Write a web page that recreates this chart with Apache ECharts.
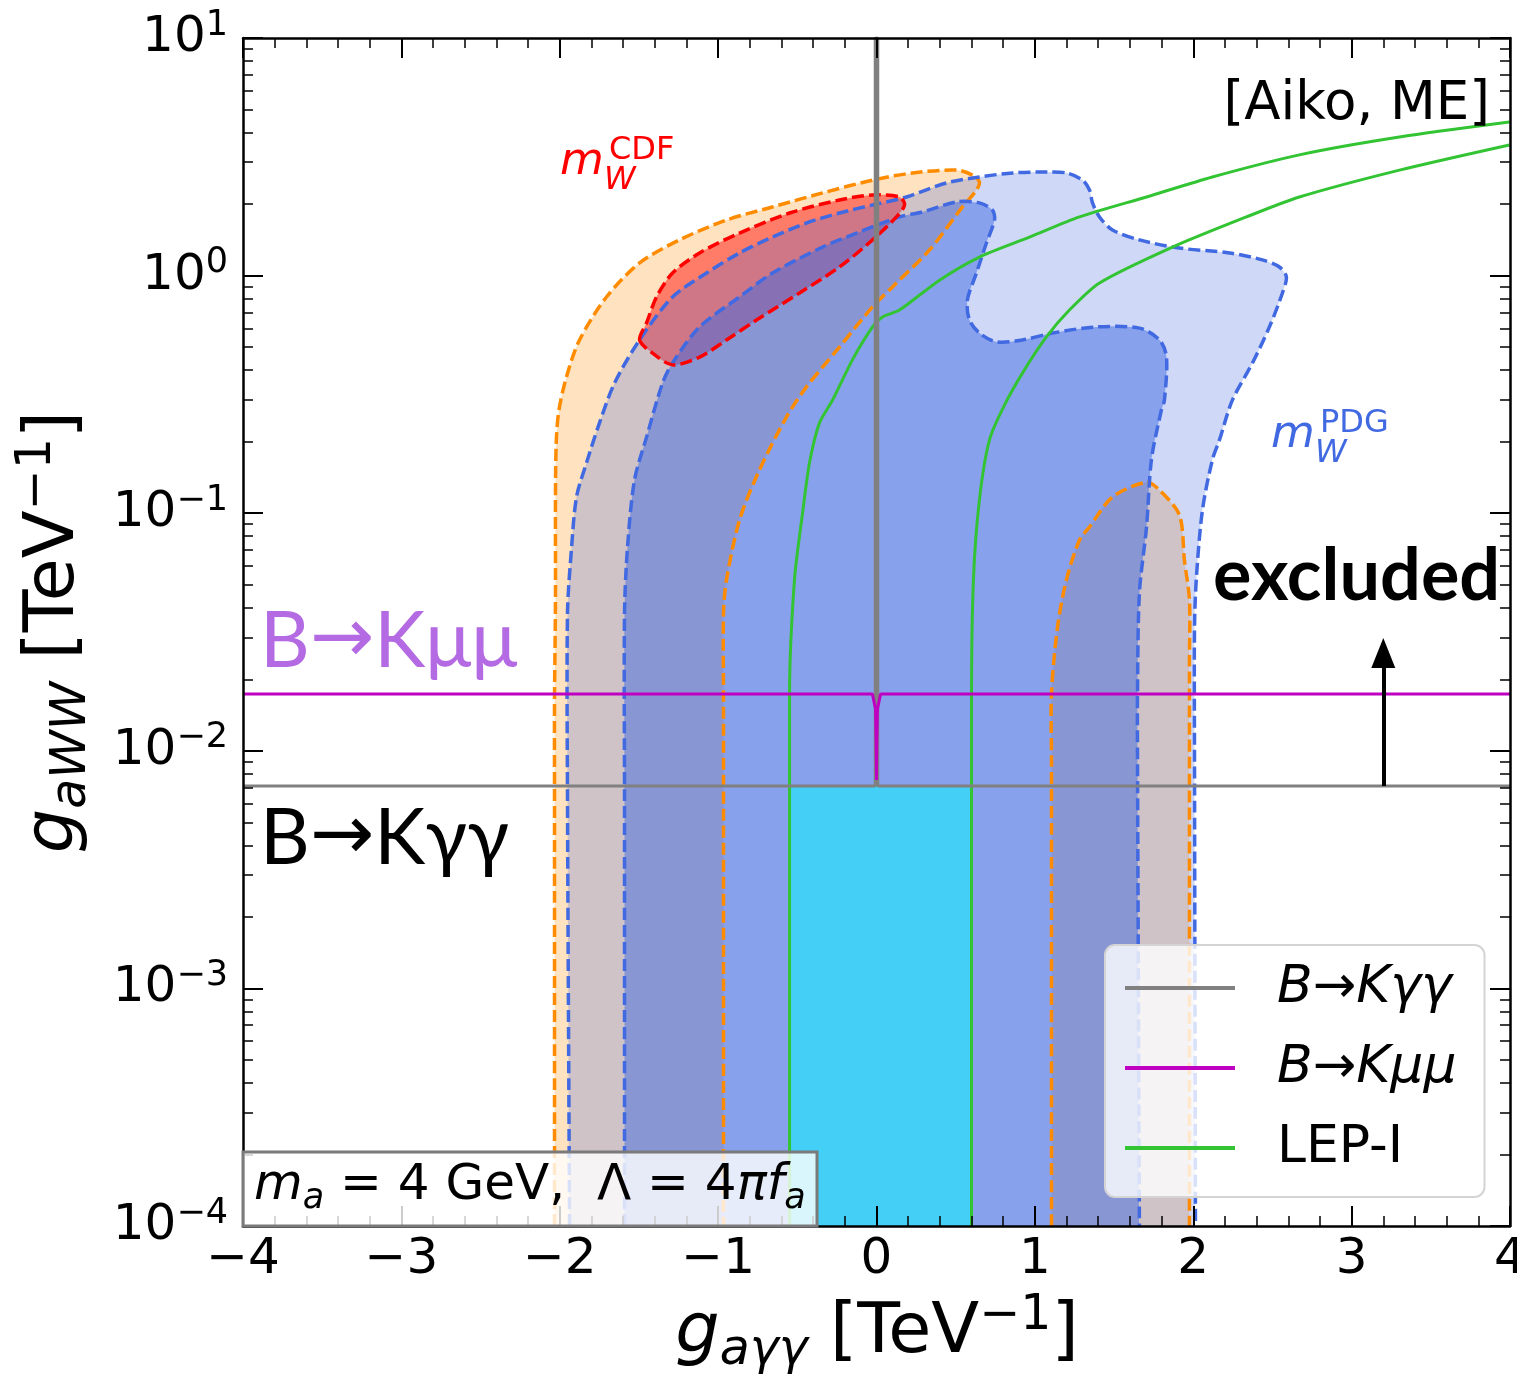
<!DOCTYPE html>
<html><head><meta charset="utf-8">
<script src="https://cdn.jsdelivr.net/npm/echarts@6/dist/echarts.min.js"></script>
<style>html,body{margin:0;padding:0;background:#fff}#c{width:1517px;height:1378px}</style>
</head><body><div id="c"></div>
<script>
// ---------- axes ----------
const xTickValues = [-4, -3, -2, -1, 0, 1, 2, 3, 4];
const xTickLabels = ['\u22124', '\u22123', '\u22122', '\u22121', '0', '1', '2', '3', '4'];
const yTickValues = [1e-4, 1e-3, 1e-2, 1e-1, 1, 10];
const yTickExponents = ['\u22124', '\u22123', '\u22122', '\u22121', '0', '1'];
const yMinorTickValues = [
  2e-4, 3e-4, 4e-4, 5e-4, 6e-4, 7e-4, 8e-4, 9e-4,
  2e-3, 3e-3, 4e-3, 5e-3, 6e-3, 7e-3, 8e-3, 9e-3,
  0.02, 0.03, 0.04, 0.05, 0.06, 0.07, 0.08, 0.09,
  0.2, 0.3, 0.4, 0.5, 0.6, 0.7, 0.8, 0.9,
  2, 3, 4, 5, 6, 7, 8, 9
];

// ---------- regions [g_aγγ, g_aWW] ----------
const cdfOuterBand = [
  [-2.033, 1e-4], [-2.033, 0.00621], [-2.033, 0.0164], [-2.027, 0.0432], [-2.027, 0.114], [-2.022, 0.200],
  [-2.005, 0.272], [-1.955, 0.380], [-1.875, 0.536], [-1.705, 0.813], [-1.496, 1.13], [-1.244, 1.413], [-0.947, 1.714],
  [-0.657, 1.945], [-0.341, 2.228], [-0.025, 2.523], [0.227, 2.704], [0.505, 2.780], [0.606, 2.649], [0.650, 2.477],
  [0.631, 2.291], [0.543, 1.945], [0.335, 1.282], [0.126, 0.931], [-0.025, 0.738], [-0.234, 0.500],
  [-0.442, 0.340], [-0.568, 0.254], [-0.739, 0.152], [-0.865, 0.0935], [-0.947, 0.0524], [-0.966, 0.0380],
  [-0.966, 0.0164], [-0.966, 1e-4]
];
const cdfRightLobe = [
  [1.105, 1e-4], [1.105, 0.00914], [1.105, 0.0175], [1.143, 0.0332], [1.199, 0.0524], [1.282, 0.0771],
  [1.345, 0.0875], [1.490, 0.117], [1.705, 0.135], [1.787, 0.125], [1.913, 0.0981], [1.944, 0.0635],
  [1.976, 0.0432], [1.976, 0.0241], [1.976, 1e-4]
];
const cdfCore = [
  [-1.496, 0.536], [-1.452, 0.632], [-1.389, 0.813], [-1.288, 1.025], [-1.117, 1.245], [-0.865, 1.510],
  [-0.549, 1.834], [-0.234, 2.080], [-0.025, 2.183], [0.145, 2.142], [0.177, 1.982], [0.126, 1.766],
  [-0.025, 1.413], [-0.234, 1.087], [-0.486, 0.845], [-0.758, 0.650], [-0.947, 0.536], [-1.117, 0.454],
  [-1.288, 0.421], [-1.414, 0.472]
];
const pdgOuter = [
  [-1.938, 1e-4], [-1.951, 0.00621], [-1.951, 0.0380], [-1.925, 0.0721], [-1.894, 0.117], [-1.831, 0.163],
  [-1.749, 0.240], [-1.654, 0.353], [-1.496, 0.536], [-1.288, 0.813], [-1.073, 1.025], [-0.865, 1.245],
  [-0.657, 1.452], [-0.442, 1.665], [-0.234, 1.834], [-0.025, 1.982], [0.189, 2.142], [0.442, 2.455],
  [0.650, 2.600], [0.859, 2.704], [1.073, 2.729], [1.199, 2.704], [1.301, 2.523], [1.345, 2.291],
  [1.364, 2.023], [1.408, 1.766], [1.490, 1.556], [1.660, 1.413], [1.913, 1.306], [2.229, 1.245],
  [2.437, 1.164], [2.544, 1.087], [2.588, 0.986], [2.563, 0.845], [2.481, 0.608], [2.374, 0.429],
  [2.247, 0.299], [2.165, 0.203], [2.121, 0.168], [2.058, 0.103], [2.020, 0.0538], [2.008, 0.0332],
  [2.008, 0.00914], [2.014, 1e-4]
];
const pdgCore = [
  [-1.591, 1e-4], [-1.591, 0.00621], [-1.591, 0.0380], [-1.572, 0.0721], [-1.528, 0.138], [-1.452, 0.209],
  [-1.351, 0.353], [-1.288, 0.429], [-1.117, 0.608], [-0.865, 0.813], [-0.657, 1.025], [-0.341, 1.318],
  [-0.126, 1.510], [0.145, 1.766], [0.290, 1.853], [0.505, 2.042], [0.650, 2.023], [0.732, 1.888],
  [0.745, 1.714], [0.694, 1.371], [0.631, 1.025], [0.574, 0.789], [0.587, 0.650], [0.650, 0.573],
  [0.758, 0.526], [0.922, 0.536], [1.111, 0.573], [1.389, 0.608], [1.660, 0.601], [1.787, 0.536],
  [1.831, 0.454], [1.818, 0.299], [1.799, 0.272], [1.736, 0.168], [1.705, 0.0875], [1.660, 0.0461],
  [1.648, 0.0175], [1.648, 0.00914], [1.660, 1e-4]
];
const allowedBox = [[-0.549, 1e-4], [-0.549, 0.00711], [0.600, 0.00711], [0.600, 1e-4]];

// ---------- constraint lines ----------
const lepLeft = [
  [-0.549, 1e-4], [-0.549, 0.00235], [-0.549, 0.0173], [-0.518, 0.0524], [-0.467, 0.100], [-0.423, 0.163],
  [-0.360, 0.240], [-0.278, 0.299], [-0.152, 0.442], [-0.025, 0.608], [0.038, 0.670], [0.145, 0.716],
  [0.398, 0.957], [0.650, 1.197], [0.966, 1.452], [1.282, 1.766], [1.705, 2.143], [2.121, 2.600],
  [2.670, 3.221], [3.302, 3.828], [3.996, 4.426]
];
const lepRight = [
  [0.600, 1e-4], [0.600, 0.0164], [0.612, 0.0524], [0.650, 0.114], [0.713, 0.203], [0.808, 0.285],
  [0.934, 0.401], [1.073, 0.552], [1.218, 0.716], [1.408, 0.931], [1.869, 1.318], [2.336, 1.766],
  [2.670, 2.142], [3.302, 2.780], [3.996, 3.548]
];
const bkggLine = [[-4, 0.00711], [-0.008, 0.00711], [-0.008, 10], [0.008, 10], [0.008, 0.00711], [4, 0.00711]];
const bkmmLine = [[-4, 0.01734], [-0.026, 0.01734], [-0.006, 0.0150], [-0.002, 0.0100], [0, 0.00753],
  [0.002, 0.0100], [0.006, 0.0150], [0.026, 0.01734], [4, 0.01734]];
const exclusionArrow = [[3.2, 0.00711], [3.2, 0.0258]];
const legendNames = ['B\u2192K\u03b3\u03b3', 'B\u2192K\u03bc\u03bc', 'LEP-I'];

// ---------- helpers ----------
const FONT = 'DejaVu Sans';
const LABEL_FONT = 'Lato, DejaVu Sans';
const SMOOTH = 0.3;
function fillSeries(pts, color, closed) {
  return {
    type: 'custom', coordinateSystem: 'cartesian2d', xAxisIndex: 0, yAxisIndex: 0,
    z: 1, silent: true, clip: true, data: pts, encode: { x: 0, y: 1 },
    renderItem: function (params, api) {
      if (params.dataIndex !== 0) return null;
      return { type: closed ? 'polygon' : 'polyline',
        shape: { points: pts.map(p => api.coord(p)), smooth: SMOOTH },
        style: { fill: color, stroke: null } };
    }
  };
}
function outlineSeries(pts, color, closed) {
  return {
    type: 'custom', coordinateSystem: 'cartesian2d', xAxisIndex: 0, yAxisIndex: 0,
    z: 2, silent: true, clip: true, data: pts, encode: { x: 0, y: 1 },
    renderItem: function (params, api) {
      if (params.dataIndex !== 0) return null;
      return {
        type: closed ? 'polygon' : 'polyline',
        shape: { points: pts.map(p => api.coord(p)), smooth: SMOOTH },
        style: { fill: closed ? 'none' : null, stroke: color, lineWidth: 3.5, lineDash: [12, 5] }
      };
    }
  };
}
function lineSeries(name, pts, color, z, smooth) {
  return {
    type: 'line', name: name, data: pts, xAxisIndex: 0, yAxisIndex: 0, symbol: 'none', showSymbol: false,
    smooth: smooth || false,
    lineStyle: { color: color, width: 3 }, itemStyle: { color: color }, z: z, silent: true, clip: true
  };
}
const tickLine = { color: '#000', width: 2 };
function xAx(pos, labels) {
  return {
    type: 'value', min: -4, max: 4, interval: 1, position: pos, z: 5,
    axisLine: { show: true, onZero: false, lineStyle: { color: '#000', width: 2.5 } },
    axisTick: { show: true, inside: true, length: 20, lineStyle: tickLine },
    minorTick: { show: true, splitNumber: 5, length: 10, lineStyle: { color: '#000', width: 1.5 } },
    axisLabel: {
      show: labels, margin: 9, fontSize: 50, fontFamily: FONT, color: '#000',
      formatter: v => xTickLabels[xTickValues.indexOf(Math.round(v))]
    },
    splitLine: { show: false }, minorSplitLine: { show: false }
  };
}
function yAx(pos, major, labels) {
  return {
    type: 'log', logBase: 10, min: 1e-4, max: 10, position: pos, z: 5,
    axisLine: { show: major, onZero: false, lineStyle: { color: '#000', width: 2.5 } },
    axisTick: {
      show: true, inside: true, length: major ? 20 : 10,
      lineStyle: major ? tickLine : { color: '#000', width: 1.5 },
      customValues: major ? yTickValues : yMinorTickValues
    },
    axisLabel: {
      show: labels, margin: 15, customValues: yTickValues,
      formatter: v => {
        const i = yTickValues.findIndex(t => Math.abs(Math.log10(t) - Math.log10(v)) < 1e-6);
        return '{b|10}{s|' + yTickExponents[i] + '}';
      },
      rich: {
        b: { fontSize: 50, lineHeight: 60, fontFamily: FONT, color: '#000' },
        s: { fontSize: 35, lineHeight: 30, fontFamily: FONT, color: '#000', verticalAlign: 'top' }
      }
    },
    splitLine: { show: false }
  };
}
function mathRich(F, color) {
  const Fs = Math.round(F * 0.7);
  return {
    n: { fontFamily: FONT, fontSize: F, lineHeight: F * 1.2, fill: color },
    i: { fontFamily: FONT, fontStyle: 'italic', fontSize: F, lineHeight: F * 1.2, fill: color },
    sub: { fontFamily: FONT, fontStyle: 'italic', fontSize: Fs, lineHeight: F * 1.2 - 30, fill: color, verticalAlign: 'bottom' },
    sup: { fontFamily: FONT, fontSize: Fs, lineHeight: F * 1.2 - 30, fill: color, verticalAlign: 'top' }
  };
}
function arrowRich(F, color) {
  return {
    a: { fontFamily: LABEL_FONT, fontSize: F, lineHeight: F * 1.2, fill: color },
    r: { fontFamily: FONT, fontSize: F, lineHeight: F * 1.2, fill: color }
  };
}
function txt(x, y, text, style, extra) {
  return Object.assign({ type: 'text', x: x, y: y, z: 20, silent: true,
    style: Object.assign({ text: text, fontFamily: FONT, align: 'left', verticalAlign: 'middle',
      textAlign: 'left', textVerticalAlign: 'middle' }, style) }, extra || {});
}

const chart = echarts.init(document.getElementById('c'), null, { renderer: 'canvas', width: 1517, height: 1378 });
const option = {
  animation: false,
  backgroundColor: '#ffffff',
  grid: { left: 243, top: 38, right: 7, bottom: 152, containLabel: false, outerBoundsMode: 'none' },
  xAxis: [xAx('bottom', true), xAx('top', false)],
  yAxis: [yAx('left', true, true), yAx('right', true, false), yAx('left', false, false), yAx('right', false, false)],
  legend: {
    orient: 'vertical', left: 1105, top: 945, z: 8, selectedMode: false,
    data: legendNames, icon: 'rect', itemWidth: 110, itemHeight: 4, itemGap: 20,
    padding: [13, 28, 19, 20],
    backgroundColor: 'rgba(255,255,255,0.8)', borderColor: '#d4d4d4', borderWidth: 2, borderRadius: 10,
    itemStyle: { borderWidth: 0 },
    formatter: n => (n === 'LEP-I' ? '{n|' : '{i|') + n + '}',
    textStyle: {
      fontFamily: FONT, fontSize: 52, color: '#000', lineHeight: 60,
      rich: {
        i: { fontFamily: FONT, fontStyle: 'italic', fontSize: 52, lineHeight: 60, padding: [0, 0, 0, 37] },
        n: { fontFamily: FONT, fontSize: 52, lineHeight: 60, padding: [0, 0, 0, 37] }
      }
    }
  },
  series: [
    fillSeries(cdfOuterBand, 'rgba(255,140,0,0.25)'),
    fillSeries(cdfRightLobe, 'rgba(255,140,0,0.25)'),
    fillSeries(cdfCore, 'rgba(255,0,0,0.45)', true),
    fillSeries(pdgOuter, 'rgba(65,105,225,0.25)'),
    fillSeries(pdgCore, 'rgba(65,105,225,0.5)'),
    {
      type: 'custom', coordinateSystem: 'cartesian2d', xAxisIndex: 0, yAxisIndex: 0,
      z: 1, silent: true, clip: true, data: allowedBox, encode: { x: 0, y: 1 },
      renderItem: (params, api) => params.dataIndex !== 0 ? null :
        { type: 'polygon', shape: { points: allowedBox.map(p => api.coord(p)) }, style: { fill: 'rgba(0,255,255,0.5)' } }
    },
    outlineSeries(cdfOuterBand, '#ff8c00', false),
    outlineSeries(cdfRightLobe, '#ff8c00', false),
    outlineSeries(pdgOuter, '#4169e1', false),
    outlineSeries(pdgCore, '#4169e1', false),
    outlineSeries(cdfCore, '#ff0000', true),
    lineSeries('LEP-I', lepLeft, '#33c433', 3, 0.25),
    lineSeries('LEP-I', lepRight, '#33c433', 3, 0.25),
    Object.assign(lineSeries(legendNames[0], bkggLine, '#808080', 3), {
      markLine: {
        silent: true, symbol: ['none', 'triangle'], symbolSize: [24, 30], animation: false,
        lineStyle: { color: '#000', width: 4, type: 'solid' }, label: { show: false },
        data: [[{ coord: exclusionArrow[0] }, { coord: exclusionArrow[1] }]]
      }
    }),
    lineSeries(legendNames[1], bkmmLine, '#c000c0', 4)
  ],
  graphic: [
    { type: 'rect', z: 15, silent: true, shape: { x: 243, y: 1152, width: 574, height: 74 },
      style: { fill: 'rgba(255,255,255,0.8)', stroke: '#7a7a7a', lineWidth: 3 } },
    txt(254, 1186, '{i|m}{sub|a}{n| = 4 GeV,  \u039b = 4}{i|\u03c0f}{sub|a}', { rich: mathRich(50, '#000') }),
    txt(1490, 105, '[Aiko, ME]', { fontSize: 53, fill: '#000', align: 'right', textAlign: 'right' }),
    txt(560, 162, 'm', { fontSize: 45, fontStyle: 'italic', fill: '#ff0000' }),
    txt(604, 181, 'W', { fontSize: 32, fontStyle: 'italic', fill: '#ff0000' }),
    txt(609, 151, 'CDF', { fontSize: 32, fill: '#ff0000' }),
    txt(1271, 435, 'm', { fontSize: 45, fontStyle: 'italic', fill: '#4169e1' }),
    txt(1315, 454, 'W', { fontSize: 32, fontStyle: 'italic', fill: '#4169e1' }),
    txt(1320, 424, 'PDG', { fontSize: 32, fill: '#4169e1' }),
    txt(1213, 577, 'excluded', { fontSize: 72, fontFamily: LABEL_FONT, fontWeight: 'bold', fill: '#000' }),
    txt(260, 642, '{a|B}{r|\u2192}{a|K\u03bc\u03bc}', { rich: arrowRich(77, '#b36ae2'), fill: '#b36ae2' }),
    txt(260, 839, '{a|B}{r|\u2192}{a|K\u03b3\u03b3}', { rich: arrowRich(77, '#000'), fill: '#000' }),
    txt(877, 1334, '{i|g}{sub|a\u03b3\u03b3}{n| [TeV}{sup|\u22121}{n|]}',
      { rich: mathRich(70, '#000'), align: 'center', textAlign: 'center' }),
    txt(55, 632, '{i|g}{sub|aWW}{n| [TeV}{sup|\u22121}{n|]}',
      { rich: mathRich(70, '#000'), align: 'center', textAlign: 'center' }, { rotation: Math.PI / 2 })
  ]
};
chart.setOption(option);
</script>
</body></html>
